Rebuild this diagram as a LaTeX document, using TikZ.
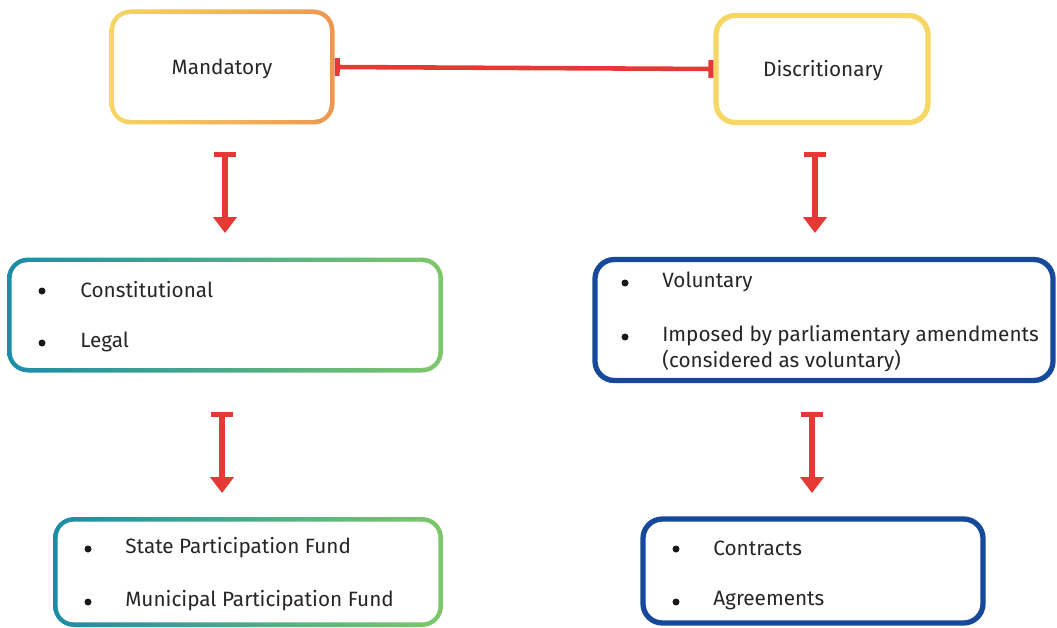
\documentclass[tikz,border=0pt]{standalone}
\usepackage{fontspec}
\setmainfont{Fira Sans}
\usetikzlibrary{arrows.meta}
\definecolor{myred}{RGB}{229,57,53}
\definecolor{myyellow}{RGB}{246,214,100}
\definecolor{myorange}{RGB}{238,150,80}
\definecolor{myteal}{RGB}{28,140,168}
\definecolor{mygreen}{RGB}{125,200,105}
\definecolor{myblue}{RGB}{22,72,156}
\begin{document}
\begin{tikzpicture}[x=0.02cm,y=-0.02cm,
  shadedbox/.style={draw=none, rounded corners=12pt, inner sep=0pt},
  plainbox/.style={draw=myblue, line width=3pt, rounded corners=11pt, inner sep=0pt, fill=white},
  yellowbox/.style={draw=myyellow, line width=3pt, rounded corners=11pt, inner sep=0pt, fill=white},
  txt/.style={font=\fontsize{11.8}{14}\selectfont, text=black!85, inner sep=0pt},
  bul/.style={circle, fill=black!90, inner sep=0pt, minimum size=0.14cm},
  flow/.style={draw=myred, line width=3.6pt, {Bar[width=13pt,line width=2.6pt]}-{Triangle[width=13pt,length=9pt]}},
  link/.style={draw=myred, line width=2.6pt, {Bar[width=10pt,line width=2.8pt]}-{Bar[width=10pt,line width=2.8pt]}}
]
\useasboundingbox (0,0) rectangle (1057,628);
% Mandatory box (gradient)
\node[shadedbox, left color=myyellow, right color=myorange, minimum width=225*0.02cm, minimum height=115*0.02cm] (mand) at (222,67) {};
\fill[white, rounded corners=9pt] ([xshift=2.9pt,yshift=-2.9pt]mand.north west) rectangle ([xshift=-2.9pt,yshift=2.9pt]mand.south east);
\node[txt] (mandt) at (222,69) {Mandatory};
% Discritionary box
\node[yellowbox, minimum width=212*0.02cm, minimum height=107*0.02cm] (disc) at (822,69) {};
\node[txt] (disct) at (823,71) {Discritionary};
% connector
\draw[link] (mand.east) -- (disc.west);
% Left level 2
\node[shadedbox, left color=myteal, right color=mygreen, minimum width=436*0.02cm, minimum height=115*0.02cm] (leg) at (225,315) {};
\fill[white, rounded corners=9pt] ([xshift=2.9pt,yshift=-2.9pt]leg.north west) rectangle ([xshift=-2.9pt,yshift=2.9pt]leg.south east);
\node[bul] (b1) at (42,291) {};
\node[txt,anchor=west] (t1) at (80,290) {Constitutional};
\node[bul] (b2) at (42,343) {};
\node[txt,anchor=west] (t2) at (80,342) {Legal};
% Right level 2
\node[plainbox, minimum width=458*0.02cm, minimum height=121*0.02cm] (vol) at (824,320) {};
\node[bul] (b3) at (625,283) {};
\node[txt,anchor=west] (t3) at (662,282) {Voluntary};
\node[bul] (b4) at (625,337) {};
\node[txt,anchor=west] (t4) at (662,336) {Imposed by parliamentary amendments};
\node[txt,anchor=west] (t5) at (662,361) {(considered as voluntary)};
% Left level 3
\node[shadedbox, left color=myteal, right color=mygreen, minimum width=390*0.02cm, minimum height=110*0.02cm] (fund) at (248,572) {};
\fill[white, rounded corners=9pt] ([xshift=2.9pt,yshift=-2.9pt]fund.north west) rectangle ([xshift=-2.9pt,yshift=2.9pt]fund.south east);
\node[bul] (b5) at (88,549) {};
\node[txt,anchor=west] (t6) at (125,548) {State Participation Fund};
\node[bul] (b6) at (88,602) {};
\node[txt,anchor=west] (t7) at (125,601) {Municipal Participation Fund};
% Right level 3
\node[plainbox, minimum width=340*0.02cm, minimum height=104*0.02cm] (con) at (813,571) {};
\node[bul] (b7) at (676,549) {};
\node[txt,anchor=west] (t8) at (713,548) {Contracts};
\node[bul] (b8) at (676,602) {};
\node[txt,anchor=west] (t9) at (713,601) {Agreements};
% vertical arrows
\coordinate (a1s) at (225,152); \coordinate (a1e) at (225,233);
\coordinate (a2s) at (815,152); \coordinate (a2e) at (815,233);
\coordinate (a3s) at (222,412); \coordinate (a3e) at (222,493);
\coordinate (a4s) at (812,412); \coordinate (a4e) at (812,493);
\draw[flow] (a1s) -- (a1e);
\draw[flow] (a2s) -- (a2e);
\draw[flow] (a3s) -- (a3e);
\draw[flow] (a4s) -- (a4e);
\end{tikzpicture}
\end{document}
